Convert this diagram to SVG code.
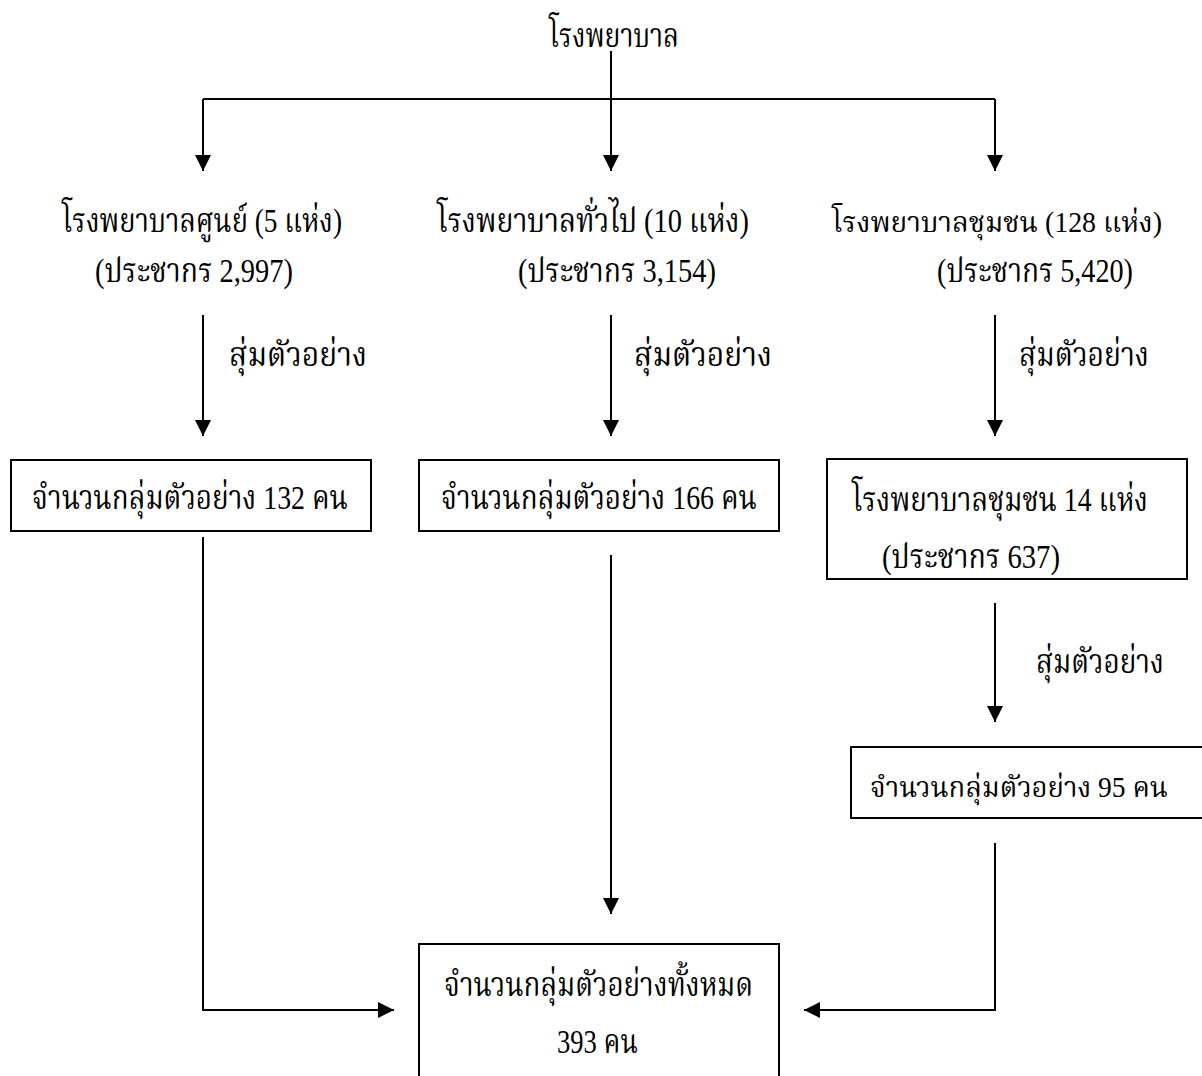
<svg xmlns="http://www.w3.org/2000/svg" width="1202" height="1076" viewBox="0 0 1202 1076">
<style>
text{font-family:"Liberation Serif","Noto Serif Thai","Noto Sans Thai","Loma","Garuda",serif;font-size:33px;fill:#000}
text.sm{font-size:29px}
.box{fill:#fff;stroke:#000;stroke-width:2}
.ln{fill:none;stroke:#000;stroke-width:2}
</style>
<defs>
<marker id="ah" markerUnits="userSpaceOnUse" markerWidth="16" markerHeight="16" viewBox="0 0 16 16" refX="16" refY="8" orient="auto">
<path d="M0,0 L16,8 L0,16 Z" fill="#000"/>
</marker>
</defs>
<rect width="1202" height="1076" fill="#fff"/>
<g id="connectors">
<path class="ln" d="M611,51 V171" marker-end="url(#ah)"/>
<path class="ln" d="M203,99 H995"/>
<path class="ln" d="M203,99 V171" marker-end="url(#ah)"/>
<path class="ln" d="M995,99 V171" marker-end="url(#ah)"/>
<path class="ln" d="M203,315 V436" marker-end="url(#ah)"/>
<path class="ln" d="M611,315 V436" marker-end="url(#ah)"/>
<path class="ln" d="M995,315 V436" marker-end="url(#ah)"/>
<path class="ln" d="M995,603 V722" marker-end="url(#ah)"/>
<path class="ln" d="M203,537 V1010 H394" marker-end="url(#ah)"/>
<path class="ln" d="M611,555 V914" marker-end="url(#ah)"/>
<path class="ln" d="M995,843 V1010 H804" marker-end="url(#ah)"/>
</g>
<g id="n-root"><text x="549" y="47" textLength="130" lengthAdjust="spacingAndGlyphs">โรงพยาบาล</text></g>
<g id="n-center">
<text x="62" y="232" textLength="280" lengthAdjust="spacingAndGlyphs">โรงพยาบาลศูนย์ (5 แห่ง)</text>
<text x="95" y="282" textLength="198" lengthAdjust="spacingAndGlyphs">(ประชากร 2,997)</text>
</g>
<g id="n-general">
<text x="437" y="232" textLength="312" lengthAdjust="spacingAndGlyphs">โรงพยาบาลทั่วไป (10 แห่ง)</text>
<text x="518" y="282" textLength="198" lengthAdjust="spacingAndGlyphs">(ประชากร 3,154)</text>
</g>
<g id="n-community">
<text class="sm" x="832" y="232" textLength="330" lengthAdjust="spacingAndGlyphs">โรงพยาบาลชุมชน (128 แห่ง)</text>
<text x="937" y="282" textLength="196" lengthAdjust="spacingAndGlyphs">(ประชากร 5,420)</text>
</g>
<g id="lbl1"><text x="229" y="366" textLength="138" lengthAdjust="spacingAndGlyphs">สุ่มตัวอย่าง</text></g>
<g id="lbl2"><text x="634" y="366" textLength="138" lengthAdjust="spacingAndGlyphs">สุ่มตัวอย่าง</text></g>
<g id="lbl3"><text x="1019" y="366" textLength="130" lengthAdjust="spacingAndGlyphs">สุ่มตัวอย่าง</text></g>
<g id="n-s1">
<rect class="box" x="11" y="460" width="360" height="71"/>
<text x="32" y="509" textLength="316" lengthAdjust="spacingAndGlyphs">จำนวนกลุ่มตัวอย่าง 132 คน</text>
</g>
<g id="n-s2">
<rect class="box" x="419" y="460" width="360" height="71"/>
<text x="441" y="509" textLength="316" lengthAdjust="spacingAndGlyphs">จำนวนกลุ่มตัวอย่าง 166 คน</text>
</g>
<g id="n-c14">
<rect class="box" x="827" y="459" width="360" height="120"/>
<text x="852" y="511" textLength="296" lengthAdjust="spacingAndGlyphs">โรงพยาบาลชุมชน 14 แห่ง</text>
<text x="882" y="568" textLength="178" lengthAdjust="spacingAndGlyphs">(ประชากร 637)</text>
</g>
<g id="lbl4"><text x="1036" y="673" textLength="128" lengthAdjust="spacingAndGlyphs">สุ่มตัวอย่าง</text></g>
<g id="n-s3">
<rect class="box" x="851" y="747" width="360" height="71"/>
<text class="sm" x="870" y="797" textLength="298" lengthAdjust="spacingAndGlyphs">จำนวนกลุ่มตัวอย่าง 95 คน</text>
</g>
<g id="n-total">
<rect class="box" x="419" y="944" width="360" height="150"/>
<text x="444" y="996" textLength="309" lengthAdjust="spacingAndGlyphs">จำนวนกลุ่มตัวอย่างทั้งหมด</text>
<text x="557" y="1053" textLength="81" lengthAdjust="spacingAndGlyphs">393 คน</text>
</g>
</svg>
